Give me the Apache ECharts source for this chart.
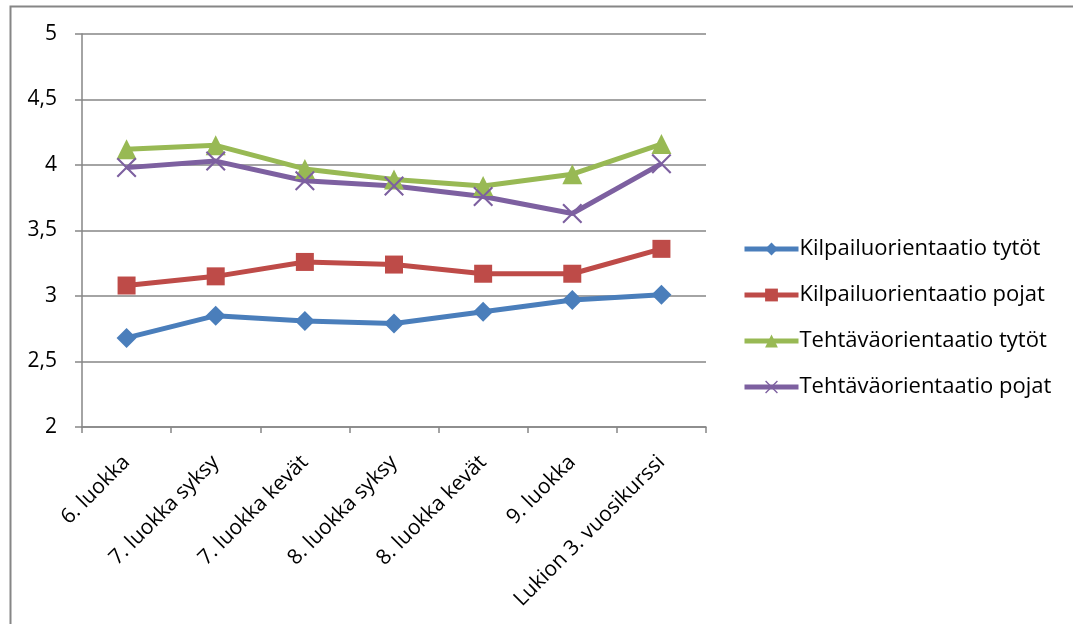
<!DOCTYPE html>
<html>
<head>
<meta charset="utf-8">
<script src="https://cdn.jsdelivr.net/npm/echarts@6/dist/echarts.min.js"></script>
<style>
  html, body { margin: 0; padding: 0; background: #fff; }
  #chart { width: 1073px; height: 624px; }
</style>
</head>
<body>
<div id="chart"></div>
<script>
// Luokka-asteet (x-akseli)
const categories = ['6. luokka', '7. luokka syksy', '7. luokka kevät', '8. luokka syksy', '8. luokka kevät', '9. luokka', 'Lukion 3. vuosikurssi'];

// Sarjojen nimet
const seriesNames = ['Kilpailuorientaatio tytöt', 'Kilpailuorientaatio pojat', 'Tehtäväorientaatio tytöt', 'Tehtäväorientaatio pojat'];

// Keskiarvot
const kilpailuTytot = [2.68, 2.85, 2.81, 2.79, 2.88, 2.97, 3.01];
const kilpailuPojat = [3.08, 3.15, 3.26, 3.24, 3.17, 3.17, 3.36];
const tehtavaTytot = [4.12, 4.15, 3.97, 3.89, 3.84, 3.93, 4.16];
const tehtavaPojat = [3.98, 4.03, 3.88, 3.84, 3.76, 3.63, 4.01];

// Y-akselin asteikko
const yMin = 2, yMax = 5, yStep = 0.5;

const FONT = '"Open Sans", sans-serif';
const FONT_SIZE = 21;
const GRID_GRAY = '#868686';
const crossSymbol = 'path://M0,1.2 L1.2,0 L8,6.8 L14.8,0 L16,1.2 L9.2,8 L16,14.8 L14.8,16 L8,9.2 L1.2,16 L0,14.8 L6.8,8 Z';

function lineSeries(name, data, color, symbol, size) {
  return {
    name: name,
    type: 'line',
    data: data,
    symbol: symbol,
    symbolSize: size,
    showAllSymbol: true,
    lineStyle: { color: color, width: 5 },
    itemStyle: { color: color },
    emphasis: { disabled: true },
    animation: false
  };
}

const chart = echarts.init(document.getElementById('chart'), null, { renderer: 'canvas' });
chart.setOption({
  backgroundColor: '#ffffff',
  animation: false,
  textStyle: { fontFamily: FONT },
  graphic: [{
    type: 'rect',
    shape: { x: 10.5, y: 6.5, width: 1100, height: 700 },
    style: { fill: 'none', stroke: GRID_GRAY, lineWidth: 2 },
    silent: true,
    z: -10
  }],
  grid: { left: 82, top: 34, width: 624, height: 393, containLabel: false },
  legend: {
    orient: 'vertical',
    left: 737,
    top: 233,
    itemGap: 24,
    itemWidth: 54,
    itemHeight: 16,
    data: seriesNames,
    lineStyle: { width: 5 },
    textStyle: { fontFamily: FONT, fontSize: 22, lineHeight: 22, color: '#000', padding: [0, 0, 0, -4] },
    selectedMode: false
  },
  xAxis: {
    type: 'category',
    data: categories,
    boundaryGap: true,
    axisLine: { lineStyle: { color: GRID_GRAY, width: 1.5 } },
    axisTick: { show: true, length: 6, alignWithLabel: false, lineStyle: { color: GRID_GRAY, width: 1.5 } },
    axisLabel: { rotate: 45, interval: 0, margin: 32, fontFamily: FONT, fontSize: FONT_SIZE, color: '#000' }
  },
  yAxis: {
    type: 'value',
    min: yMin,
    max: yMax,
    interval: yStep,
    axisLine: { show: true, lineStyle: { color: GRID_GRAY, width: 1.5 } },
    axisTick: { show: true, length: 7, lineStyle: { color: GRID_GRAY, width: 1.5 } },
    splitLine: { show: true, lineStyle: { color: GRID_GRAY, width: 1.5 } },
    axisLabel: {
      margin: 25,
      fontFamily: FONT,
      fontSize: FONT_SIZE,
      color: '#000',
      formatter: v => String(v).replace('.', ',')
    }
  },
  series: [
    lineSeries(seriesNames[0], kilpailuTytot, '#4A7EBB', 'diamond', 20),
    lineSeries(seriesNames[1], kilpailuPojat, '#BE4B48', 'rect', 18),
    lineSeries(seriesNames[2], tehtavaTytot, '#98B954', 'triangle', 20),
    lineSeries(seriesNames[3], tehtavaPojat, '#7D60A0', crossSymbol, 20)
  ]
});
</script>
</body>
</html>
